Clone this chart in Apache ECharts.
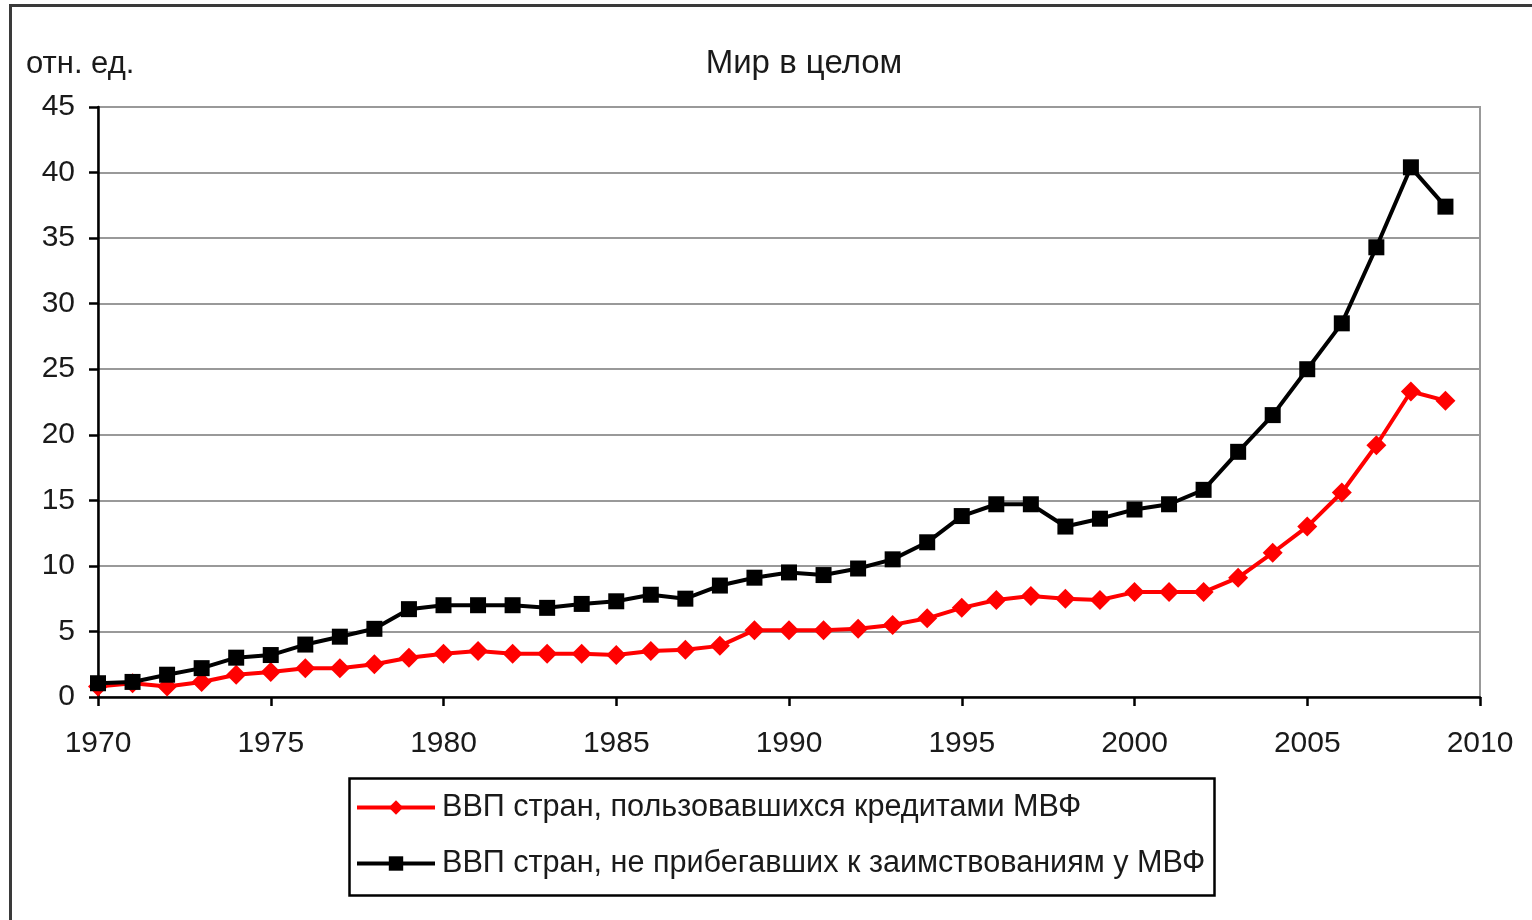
<!DOCTYPE html>
<html>
<head>
<meta charset="utf-8">
<script src="https://cdn.jsdelivr.net/npm/echarts@6/dist/echarts.min.js"></script>
<style>
html,body{margin:0;padding:0;background:#fff;}
#frame{position:absolute;left:9px;top:4px;width:1540px;height:940px;border:3px solid #3a3a3a;box-sizing:border-box;}
#chart{position:absolute;left:0;top:0;width:1532px;height:920px;}
</style>
</head>
<body>
<div id="frame"></div>
<div id="chart"></div>
<script>
const years = [1970,1971,1972,1973,1974,1975,1976,1977,1978,1979,1980,1981,1982,1983,1984,1985,1986,1987,1988,1989,1990,1991,1992,1993,1994,1995,1996,1997,1998,1999,2000,2001,2002,2003,2004,2005,2006,2007,2008,2009];
const imfBorrowers = [0.8,1.05,0.8,1.15,1.7,1.9,2.2,2.2,2.5,3.0,3.3,3.5,3.3,3.3,3.3,3.2,3.5,3.6,3.9,5.1,5.1,5.1,5.2,5.5,6.0,6.8,7.4,7.7,7.5,7.4,8.0,8.0,8.0,9.1,11.0,13.0,15.6,19.2,23.3,22.6];
const nonBorrowers = [1.05,1.15,1.7,2.2,3.0,3.2,4.0,4.6,5.2,6.7,7.0,7.0,7.0,6.8,7.1,7.3,7.8,7.5,8.5,9.1,9.5,9.3,9.8,10.5,11.8,13.8,14.7,14.7,13.0,13.6,14.3,14.7,15.8,18.7,21.5,25.0,28.5,34.3,40.4,37.4];
const seriesNames = ['ВВП стран, пользовавшихся кредитами МВФ','ВВП стран, не прибегавших к заимствованиям у МВФ'];
const titleText = 'Мир в целом';
const unitText = 'отн. ед.';

const font = '"Liberation Sans", Arial, sans-serif';
const chart = echarts.init(document.getElementById('chart'), null, {renderer:'canvas'});
chart.setOption({
  backgroundColor: 'transparent',
  animation: false,
  title: [
    {text: titleText, left: 799, top: 59, textAlign: 'center', textVerticalAlign: 'middle',
     textStyle: {fontFamily: font, fontSize: 33, fontWeight: 'normal', color: '#1a1a1a'}},
    {text: unitText, left: 21, top: 59, textVerticalAlign: 'middle',
     textStyle: {fontFamily: font, fontSize: 31, fontWeight: 'normal', color: '#1a1a1a'}}
  ],
  grid: {left: 98, right: 52, top: 107, bottom: 223, show: true, borderColor: '#999', borderWidth: 2, backgroundColor: '#fff'},
  xAxis: {
    type: 'value', min: 1970, max: 2010, interval: 5,
    axisLine: {show: true, onZero: false, lineStyle: {color: '#000', width: 2.5}},
    axisTick: {show: true, length: 9, lineStyle: {color: '#000', width: 2.5}},
    axisLabel: {fontFamily: font, fontSize: 30, color: '#1a1a1a', margin: 32, formatter: v => String(v)},
    splitLine: {show: false}
  },
  yAxis: {
    type: 'value', min: 0, max: 45, interval: 5,
    axisLine: {show: true, lineStyle: {color: '#000', width: 2.5}},
    axisTick: {show: true, length: 9, lineStyle: {color: '#000', width: 2.5}},
    axisLabel: {fontFamily: font, fontSize: 30, color: '#1a1a1a', margin: 23},
    splitLine: {show: true, lineStyle: {color: '#999', width: 2}}
  },
  legend: {
    orient: 'vertical', left: 350, top: 787,
    itemWidth: 78, itemHeight: 18, itemGap: 25,
    lineStyle: {width: 4},
    textStyle: {fontFamily: font, fontSize: 30.6, color: '#1a1a1a', padding: [0,0,0,2]},
    data: seriesNames
  },
  graphic: [
    {type: 'rect', left: 347, top: 776, shape: {width: 865, height: 117}, style: {fill: 'none', stroke: '#000', lineWidth: 2.5}, z: -1}
  ],
  series: [
    {name: seriesNames[0], type: 'line', data: years.map((y,i)=>[y, imfBorrowers[i]]),
     symbol: 'diamond', symbolSize: 20, lineStyle: {color: '#ff0000', width: 4}, itemStyle: {color: '#ff0000'}, z: 2},
    {name: seriesNames[1], type: 'line', data: years.map((y,i)=>[y, nonBorrowers[i]]),
     symbol: 'rect', symbolSize: 16, lineStyle: {color: '#000', width: 4}, itemStyle: {color: '#000'}, z: 3}
  ]
});
</script>
</body>
</html>
